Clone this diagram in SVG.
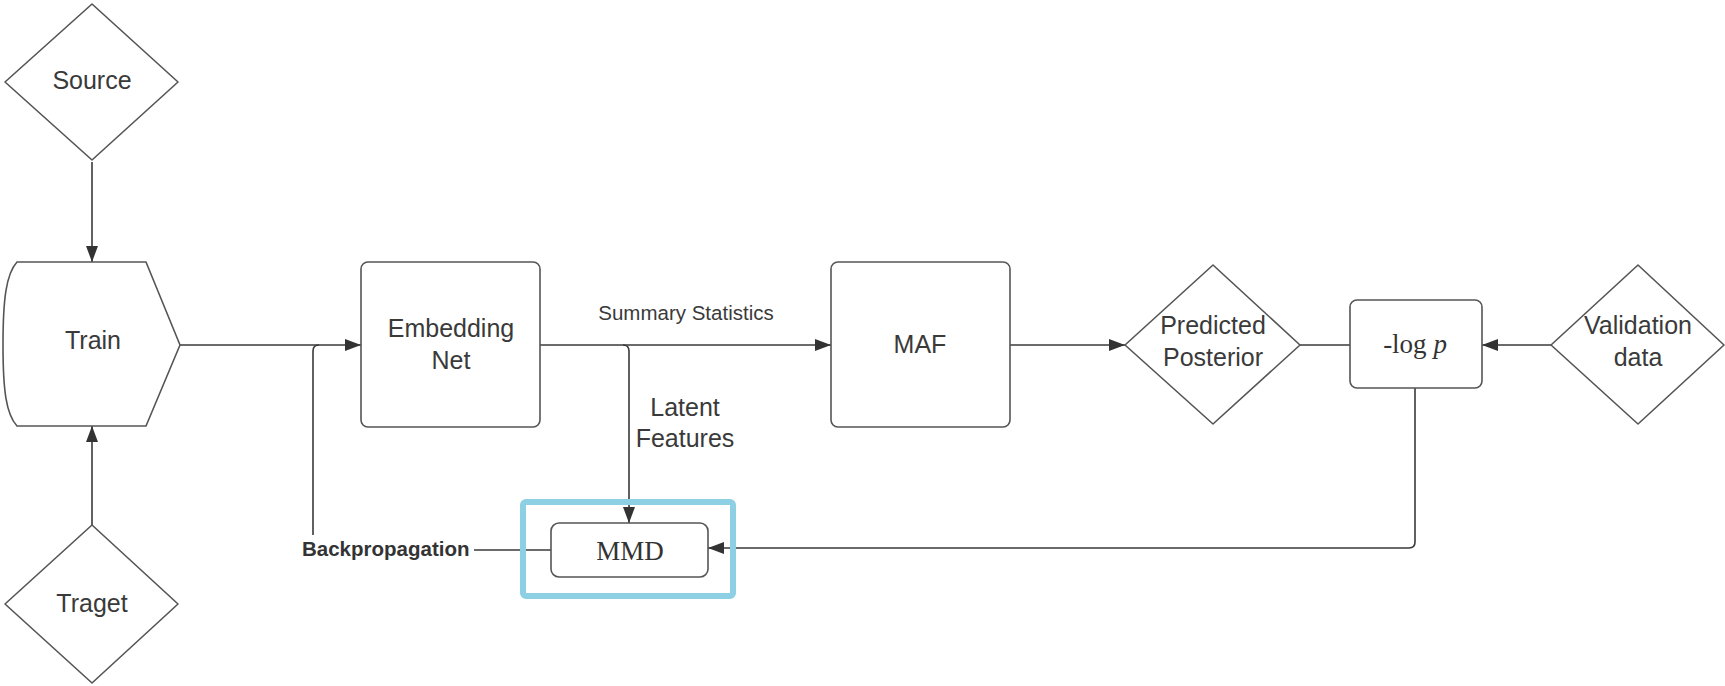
<svg xmlns="http://www.w3.org/2000/svg" width="1725" height="686" viewBox="0 0 1725 686">
  <style>
    .shape { fill: #ffffff; stroke: #555555; stroke-width: 1.6; stroke-linejoin: round; }
    .wire { fill: none; stroke: #3a3a3a; stroke-width: 1.6; }
    .lbl { font-family: "Liberation Sans", Arial, sans-serif; font-size: 25px; fill: #3a3a3a; text-anchor: middle; }
    .edge-lbl { font-family: "Liberation Sans", Arial, sans-serif; font-size: 20.5px; fill: #3a3a3a; text-anchor: middle; }
    .math { font-family: "Liberation Serif", "Times New Roman", serif; font-size: 27px; fill: #333333; text-anchor: middle; }
    .bold-lbl { font-family: "Liberation Sans", Arial, sans-serif; font-size: 20.5px; font-weight: bold; fill: #333333; }
  </style>
  <defs>
    <marker id="arrow" viewBox="0 0 16 12" refX="16" refY="6" markerWidth="16" markerHeight="12" markerUnits="userSpaceOnUse" orient="auto">
      <path d="M0,0 L16,6 L0,12 Z" fill="#333333"/>
    </marker>
  </defs>

  <rect width="1725" height="686" fill="#ffffff"/>

  <!-- connectors -->
  <g id="connectors">
    <!-- Source -> Train -->
    <path class="wire" d="M92,162 V262" marker-end="url(#arrow)"/>
    <!-- Traget -> Train -->
    <path class="wire" d="M92,525 V426" marker-end="url(#arrow)"/>
    <!-- Train -> Embedding Net -->
    <path class="wire" d="M180,345 H361" marker-end="url(#arrow)"/>
    <!-- Backpropagation: MMD -> Embedding Net -->
    <path class="wire" d="M551,550 H474"/>
    <path class="wire" d="M313,535 V351 Q313,345 319,345"/>
    <!-- Embedding Net -> MAF (summary statistics) -->
    <path class="wire" d="M540,345 H831" marker-end="url(#arrow)"/>
    <!-- Embedding Net -> MMD (latent features) -->
    <path class="wire" d="M623,345 Q629,345 629,351 V523" marker-end="url(#arrow)"/>
    <!-- MAF -> Predicted Posterior -->
    <path class="wire" d="M1010,345 H1125" marker-end="url(#arrow)"/>
    <!-- Predicted Posterior -> -log p -->
    <path class="wire" d="M1300,345 H1350"/>
    <!-- Validation data -> -log p -->
    <path class="wire" d="M1551,345 H1482" marker-end="url(#arrow)"/>
    <!-- -log p -> MMD -->
    <path class="wire" d="M1415,388 V542 Q1415,548 1409,548 H708" marker-end="url(#arrow)"/>

    <text class="edge-lbl" x="686" y="320">Summary Statistics</text>
    <text class="lbl" x="685" y="416">Latent</text>
    <text class="lbl" x="685" y="447">Features</text>
    <text class="bold-lbl" x="302" y="556">Backpropagation</text>
  </g>

  <g id="node-source">
    <path class="shape" d="M92,4 L178,82 L92,160 L5,82 Z"/>
    <text class="lbl" x="92" y="89">Source</text>
  </g>

  <g id="node-train">
    <path class="shape" d="M17,262 H146 L180,345 L146,426 H17 C6,414 3,390 3,345 C3,300 6,274 17,262 Z"/>
    <text class="lbl" x="93" y="349">Train</text>
  </g>

  <g id="node-traget">
    <path class="shape" d="M92,525 L178,604 L92,683 L5,604 Z"/>
    <text class="lbl" x="92" y="612">Traget</text>
  </g>

  <g id="node-embedding">
    <rect class="shape" x="361" y="262" width="179" height="165" rx="7"/>
    <text class="lbl" x="451" y="337">Embedding</text>
    <text class="lbl" x="451" y="369">Net</text>
  </g>

  <g id="node-maf">
    <rect class="shape" x="831" y="262" width="179" height="165" rx="7"/>
    <text class="lbl" x="920" y="353">MAF</text>
  </g>

  <g id="node-posterior">
    <path class="shape" d="M1213,265 L1300,345 L1213,424 L1125,345 Z"/>
    <text class="lbl" x="1213" y="334">Predicted</text>
    <text class="lbl" x="1213" y="366">Posterior</text>
  </g>

  <g id="node-neglogp">
    <rect class="shape" x="1350" y="300" width="132" height="88" rx="7"/>
    <text class="math" x="1415" y="353">-log <tspan font-style="italic">p</tspan></text>
  </g>

  <g id="node-validation">
    <path class="shape" d="M1638,265 L1724,345 L1638,424 L1551,345 Z"/>
    <text class="lbl" x="1638" y="334">Validation</text>
    <text class="lbl" x="1638" y="366">data</text>
  </g>

  <g id="node-mmd">
    <rect x="523" y="502" width="210" height="94" rx="3" fill="none" stroke="#8dd0e4" stroke-width="6"/>
    <rect class="shape" x="551" y="523" width="157" height="54" rx="8"/>
    <text class="math" x="630" y="560">MMD</text>
  </g>
</svg>
